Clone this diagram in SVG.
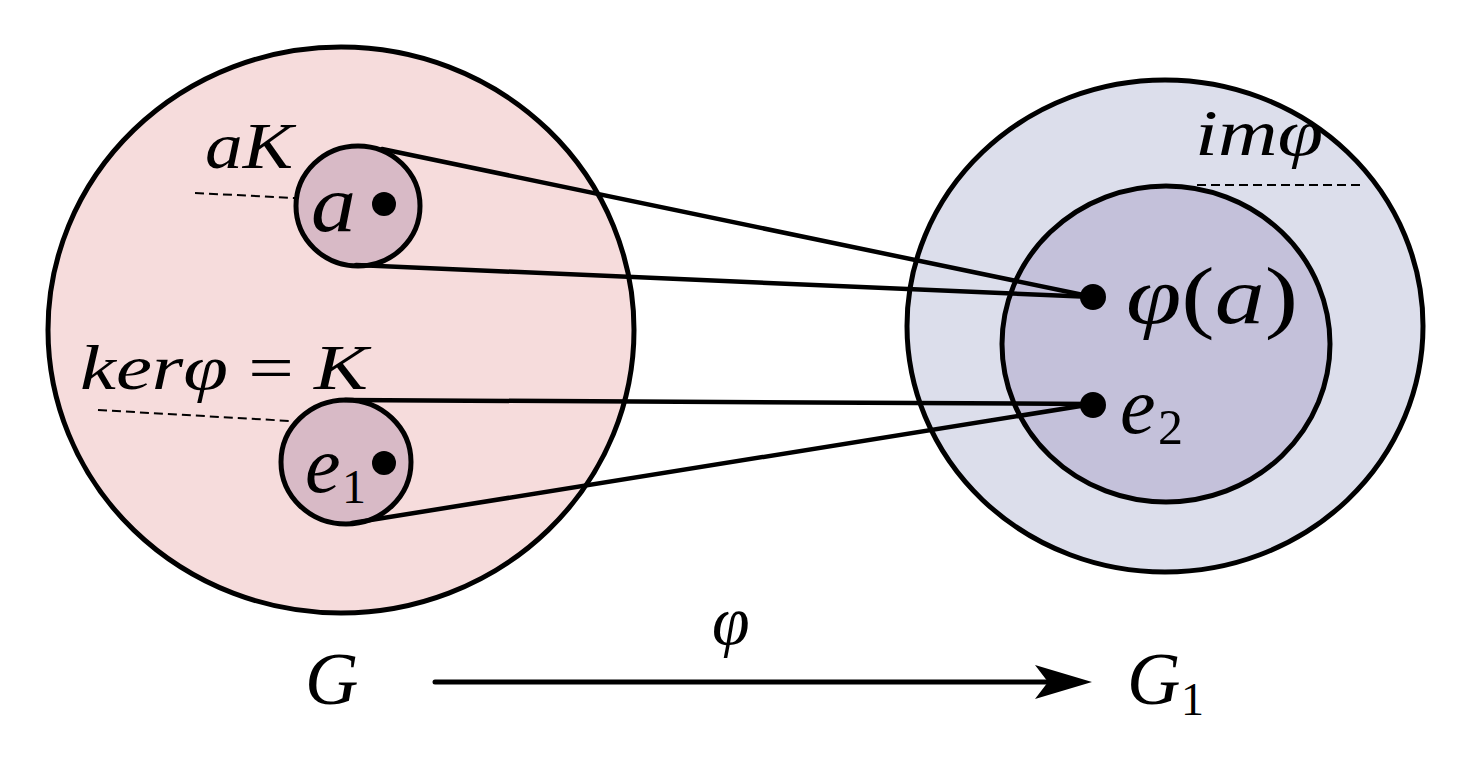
<svg xmlns="http://www.w3.org/2000/svg" width="1470" height="764" viewBox="0 0 1470 764">
<defs>
<style>
.big{stroke:#000;stroke-width:5}
.sm{fill:#d8bac6;stroke:#000;stroke-width:5}
.ln{stroke:#000;stroke-width:4.5;fill:none;stroke-linecap:round}
.dash{stroke:#000;stroke-width:2;stroke-dasharray:9 5;fill:none}
.t{font-family:'Liberation Serif','Times New Roman',serif;font-style:italic;fill:#000}
.r{font-style:normal}
</style>
</defs>
<rect width="1470" height="764" fill="#fff"/>
<g id="G">
<ellipse cx="341" cy="330" rx="293" ry="283" fill="#f6dcdc" class="big"/>
</g>
<g id="G1">
<ellipse cx="1165" cy="326" rx="258" ry="246" fill="#dcdeeb" class="big"/>
<ellipse cx="1166" cy="344" rx="164" ry="158" fill="#c4c1da" class="big"/>
</g>
<g id="aK">
<ellipse cx="358" cy="206" rx="62" ry="60" class="sm"/>
<circle cx="384" cy="204" r="12" fill="#000"/>
<text x="311" y="231" class="t" font-size="80" textLength="45" lengthAdjust="spacingAndGlyphs">a</text>
</g>
<g id="K">
<ellipse cx="346" cy="462" rx="65" ry="62" class="sm"/>
<circle cx="384" cy="463" r="12" fill="#000"/>
<text x="305" y="492" class="t" font-size="80">e</text>
<text x="342" y="503" class="t r" font-size="48">1</text>
</g>
<g id="connectors">
<line x1="382" y1="149" x2="1093" y2="297" class="ln"/>
<line x1="356" y1="265" x2="1093" y2="297" class="ln"/>
<line x1="345" y1="400" x2="1093" y2="404" class="ln"/>
<line x1="352" y1="523" x2="1093" y2="404" class="ln"/>
<line x1="435" y1="682" x2="1060" y2="682" class="ln" style="stroke-width:5"/>
<path d="M1035,665 L1092,682 L1035,699 L1048,682 Z" fill="#000"/>
<line x1="195" y1="193" x2="295" y2="198" class="dash"/>
<line x1="98" y1="410" x2="290" y2="421" class="dash"/>
<line x1="1197" y1="185" x2="1360" y2="185" class="dash"/>
</g>
<g id="phia">
<circle cx="1093" cy="297" r="13" fill="#000"/>
<text x="1126" y="323" class="t" font-size="80" textLength="172" lengthAdjust="spacingAndGlyphs">φ<tspan class="r">(</tspan>a<tspan class="r">)</tspan></text>
</g>
<g id="e2">
<circle cx="1093" cy="405" r="13" fill="#000"/>
<text x="1120" y="433" class="t" font-size="80">e</text>
<text x="1158" y="444" class="t r" font-size="50">2</text>
</g>
<g id="labels">
<text x="205" y="168" class="t" font-size="66" textLength="88" lengthAdjust="spacingAndGlyphs">aK</text>
<text x="80" y="389" class="t" font-size="64" textLength="288" lengthAdjust="spacingAndGlyphs">kerφ<tspan class="r"> = </tspan>K</text>
<text x="1195" y="155" class="t" font-size="66" textLength="128" lengthAdjust="spacingAndGlyphs">imφ</text>
<text x="712" y="644" class="t" font-size="68">φ</text>
<text x="305" y="704" class="t" font-size="74">G</text>
<text x="1127" y="704" class="t" font-size="74">G</text>
<text x="1181" y="715" class="t r" font-size="46">1</text>
</g>
</svg>
